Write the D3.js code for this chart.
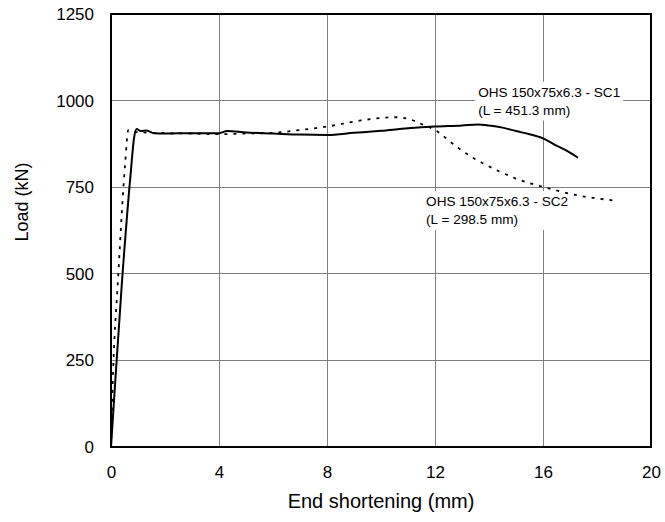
<!DOCTYPE html>
<html>
<head>
<meta charset="utf-8">
<script src="https://cdn.jsdelivr.net/npm/d3@7"></script>
<style>
  body { margin: 0; background: #fff; }
  text { font-family: 'Liberation Sans', Arial, sans-serif; fill: #000; }
</style>
</head>
<body>
<svg id="plot" width="665" height="522"></svg>
<script>
// SC1 - solid line (L = 451.3 mm)
const sc1Disp = [0, 0.1, 0.4, 0.74, 0.85, 0.95, 1.1, 1.3, 1.6, 2, 3, 4, 4.3, 5, 6, 7, 8, 9, 10, 11, 12, 13, 13.6, 14, 14.5, 15, 15.5, 16, 16.5, 17, 17.3];
const sc1Load = [0, 120, 470, 800, 890, 918, 912, 914, 906, 905, 906, 906, 912, 908, 905, 902, 901, 907, 913, 920, 925, 928, 931, 928, 922, 912, 903, 891, 870, 850, 835];

// SC2 - dashed line (L = 298.5 mm)
const sc2Disp = [0, 0.05, 0.27, 0.52, 0.64, 0.75, 0.9, 1.2, 2, 3, 4, 5, 6, 7, 8, 9.2, 10, 10.6, 11.07, 11.57, 12, 12.8, 13.4, 13.8, 14.4, 15, 16, 17.25, 18.7];
const sc2Load = [0, 150, 497, 814, 915, 912, 910, 908, 906, 905, 903, 905, 907, 915, 925, 942, 950, 952, 946, 930, 915, 867, 835, 818, 795, 775, 751, 727, 711];

const xTicks = [0, 4, 8, 12, 16, 20];
const yTicks = [0, 250, 500, 750, 1000, 1250];

const labels = [
  { lines: ['OHS 150x75x6.3 - SC1', '(L = 451.3 mm)'], x: 13.6, y: 1000 },
  { lines: ['OHS 150x75x6.3 - SC2', '(L = 298.5 mm)'], x: 11.67, y: 684 }
];

const margin = { top: 14, right: 14, bottom: 75, left: 111 };
const width = 665 - margin.left - margin.right;
const height = 522 - margin.top - margin.bottom;

const svg = d3.select('#plot');
const g = svg.append('g').attr('transform', `translate(${margin.left},${margin.top})`);

const x = d3.scaleLinear().domain([0, 20]).range([0, width]);
const y = d3.scaleLinear().domain([0, 1250]).range([height, 0]);

// grid
g.append('g')
  .attr('shape-rendering', 'crispEdges')
  .selectAll('line')
  .data(xTicks.slice(1, -1))
  .join('line')
    .attr('x1', (d) => x(d)).attr('x2', (d) => x(d))
    .attr('y1', 0).attr('y2', height)
    .attr('stroke', '#7f7f7f').attr('stroke-width', 1);

g.append('g')
  .attr('shape-rendering', 'crispEdges')
  .selectAll('line')
  .data(yTicks.slice(1, -1))
  .join('line')
    .attr('x1', 0).attr('x2', width)
    .attr('y1', (d) => y(d)).attr('y2', (d) => y(d))
    .attr('stroke', '#7f7f7f').attr('stroke-width', 1);

// axes (labels only, frame drawn separately)
g.append('g')
  .attr('transform', `translate(0,${height})`)
  .call(d3.axisBottom(x).tickValues(xTicks).tickSize(0).tickPadding(19))
  .call((s) => s.select('.domain').remove())
  .selectAll('text')
    .attr('font-size', 17);

g.append('g')
  .call(d3.axisLeft(y).tickValues(yTicks).tickFormat(d3.format('d')).tickSize(0).tickPadding(17))
  .call((s) => s.select('.domain').remove())
  .selectAll('text')
    .attr('font-size', 17);

g.selectAll('.tick text').attr('font-family', "'Liberation Sans', Arial, sans-serif").attr('fill', '#000');

// annotations with white boxes behind
labels.forEach((lb) => {
  const ag = g.append('g').attr('transform', `translate(${x(lb.x)},${y(lb.y)})`);
  const box = ag.append('rect').attr('fill', '#fff');
  const t = ag.append('text').attr('font-size', 13.6);
  lb.lines.forEach((s, i) => {
    t.append('tspan').attr('x', 0).attr('y', -4 + i * 18).text(s);
  });
  const bb = t.node().getBBox();
  box.attr('x', bb.x - 3).attr('y', bb.y - 3).attr('width', bb.width + 6).attr('height', bb.height + 6);
});

const line = d3.line()
  .x((d) => x(d[0]))
  .y((d) => y(d[1]))
  .curve(d3.curveMonotoneX);

g.append('path')
  .datum(d3.zip(sc2Disp, sc2Load))
  .attr('fill', 'none')
  .attr('stroke', '#000')
  .attr('stroke-width', 1.8)
  .attr('stroke-dasharray', '3,6')
  .attr('d', line);

g.append('path')
  .datum(d3.zip(sc1Disp, sc1Load))
  .attr('fill', 'none')
  .attr('stroke', '#000')
  .attr('stroke-width', 2)
  .attr('d', line);

// frame
g.append('rect')
  .attr('width', width).attr('height', height)
  .attr('fill', 'none').attr('stroke', '#000').attr('stroke-width', 2);

// axis titles
svg.append('text')
  .attr('x', margin.left + width / 2)
  .attr('y', 508)
  .attr('text-anchor', 'middle')
  .attr('font-size', 20)
  .text('End shortening (mm)');

svg.append('text')
  .attr('transform', 'translate(28,202) rotate(-90)')
  .attr('text-anchor', 'middle')
  .attr('font-size', 18)
  .text('Load (kN)');
</script>
</body>
</html>
